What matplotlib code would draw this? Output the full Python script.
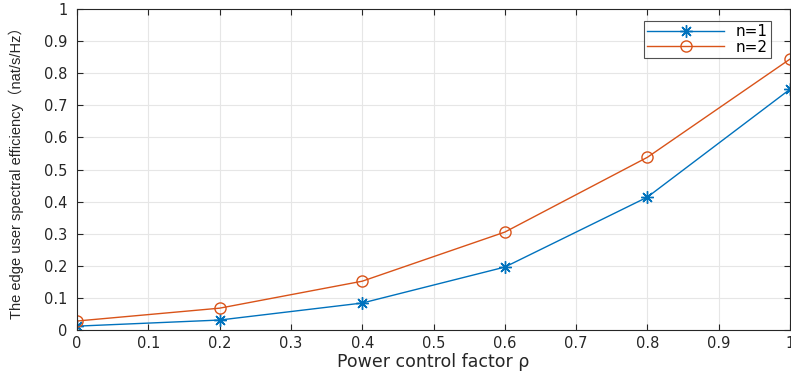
import matplotlib
matplotlib.use("Agg")
import matplotlib.pyplot as plt

rho = [0, 0.2, 0.4, 0.6, 0.8, 1.0]
n1 = [0.012, 0.031, 0.084, 0.196, 0.414, 0.750]
n2 = [0.028, 0.068, 0.152, 0.305, 0.538, 0.844]
xticks = [0, 0.1, 0.2, 0.3, 0.4, 0.5, 0.6, 0.7, 0.8, 0.9, 1]
yticks = [0, 0.1, 0.2, 0.3, 0.4, 0.5, 0.6, 0.7, 0.8, 0.9, 1]
ticklabels = ['0', '0.1', '0.2', '0.3', '0.4', '0.5', '0.6', '0.7', '0.8', '0.9', '1']

fig = plt.figure(figsize=(7.91, 3.76), dpi=100)
ax = fig.add_axes([77/791, 46/376, 713/791, 321/376])

ax.plot(rho, n1, color='#0072BD', marker=(8, 2, 0), markersize=9, linewidth=1, label='n=1',
        markeredgewidth=1)
ax.plot(rho, n2, color='#D95319', marker='o', markersize=8, linewidth=1, label='n=2',
        markerfacecolor='none', markeredgewidth=1)

ax.set_xlim(0, 1)
ax.set_ylim(0, 1)
ax.set_xticks(xticks)
ax.set_yticks(yticks)
ax.set_xticklabels(ticklabels)
ax.set_yticklabels(ticklabels)
ax.grid(True, color='#E6E6E6', linewidth=0.8)
ax.set_axisbelow(True)
ax.tick_params(direction='in', top=True, right=True, length=4, labelsize=10.5,
               colors='#262626', width=0.8)
ax.tick_params(axis='y', pad=7)
ax.tick_params(axis='x', pad=4)
for lab in ax.get_xticklabels() + ax.get_yticklabels():
    lab.set_family('DejaVu Sans')
for s in ax.spines.values():
    s.set_color('#262626')
    s.set_linewidth(0.8)

ax.set_xlabel('Power control factor ρ', fontsize=12.5, family='DejaVu Sans', color='#262626',
              labelpad=2)
ax.set_ylabel('The edge user spectral efficiency（nat/s/Hz）', fontsize=10.5,
              family=['Liberation Sans', 'Noto Sans CJK SC'], color='#262626')
ax.yaxis.set_label_coords(-53/713, 0.5)

leg = ax.legend(loc='upper right', bbox_to_anchor=(694/713, 309/321), borderaxespad=0,
                handlelength=5.0, fancybox=False, edgecolor='#262626',
                prop={'family': 'DejaVu Sans', 'size': 11}, borderpad=0.2,
                labelspacing=0.05, handletextpad=0.8)
leg.get_frame().set_linewidth(0.8)

fig.savefig('out.png', dpi=100)
